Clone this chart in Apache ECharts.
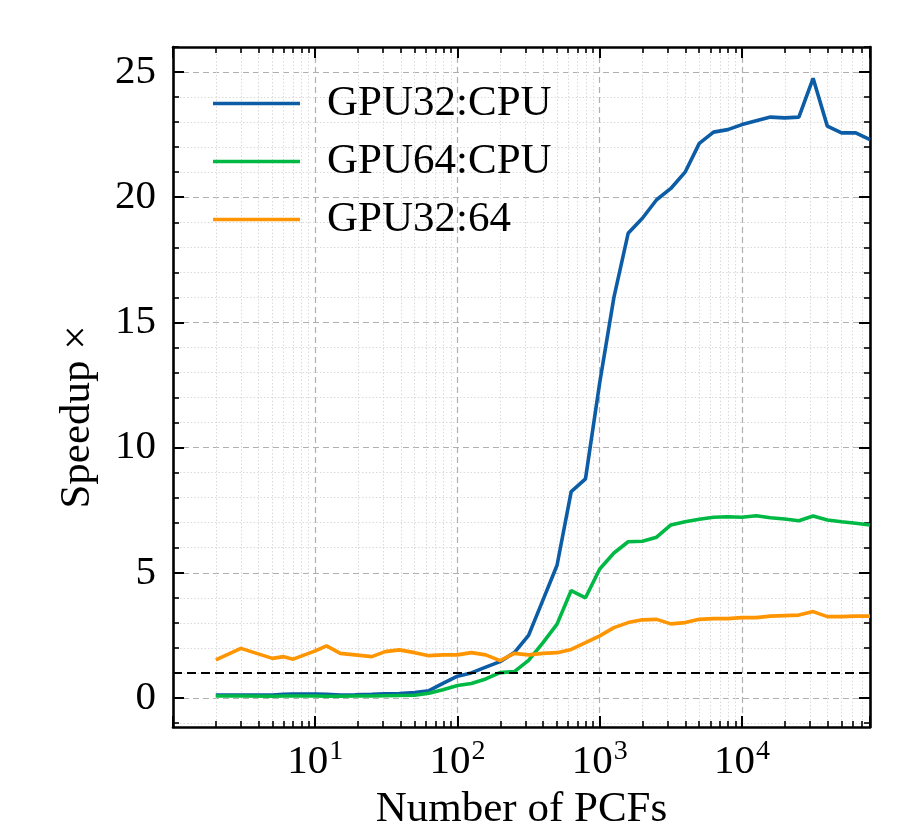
<!DOCTYPE html>
<html lang="en">
<head>
<meta charset="UTF-8">
<title>Speedup vs number of PCFs</title>
<style>
  html, body { margin: 0; padding: 0; background: #fff; }
  #chart { width: 900px; height: 840px; }
</style>
</head>
<body>
<div id="chart"></div>
<script src="https://cdn.jsdelivr.net/npm/echarts@6/dist/echarts.min.js"></script>
<script>
// number of PCFs (x)
var pcfs = [2, 3, 5, 6, 7, 10, 12, 15, 19, 25, 31, 39, 50, 63, 79,
            100, 125, 158, 199, 251, 316, 398, 501, 630, 794,
            1000, 1258, 1584, 1995, 2511, 3162, 3981, 5011, 6309, 7943,
            10000, 12589, 15848, 19952, 25118, 31622, 39810, 50118, 63095, 79432];

var gpu32cpu = [0.12, 0.12, 0.12, 0.15, 0.16, 0.16, 0.15, 0.12, 0.13, 0.15,
                0.17, 0.18, 0.22, 0.29, 0.58, 0.87, 1.0, 1.23, 1.45, 1.81,
                2.5, 3.9, 5.3, 8.24, 8.75, 12.6, 16.0, 18.56, 19.16, 19.9,
                20.35, 21.0, 22.15, 22.6, 22.7, 22.9, 23.05, 23.2, 23.17, 23.2,
                24.75, 22.84, 22.57, 22.57, 22.3];

var gpu64cpu = [0.08, 0.08, 0.07, 0.08, 0.08, 0.08, 0.07, 0.07, 0.08, 0.08,
                0.09, 0.1, 0.11, 0.19, 0.33, 0.5, 0.58, 0.76, 1.01, 1.05,
                1.5, 2.2, 2.95, 4.29, 4.0, 5.15, 5.79, 6.24, 6.26, 6.42,
                6.91, 7.04, 7.14, 7.22, 7.24, 7.22, 7.28, 7.2, 7.15, 7.08,
                7.27, 7.11, 7.04, 6.98, 6.91];

var gpu32gpu64 = [1.52, 1.98, 1.58, 1.65, 1.55, 1.88, 2.08, 1.78, 1.72, 1.65,
                  1.85, 1.92, 1.81, 1.69, 1.72, 1.72, 1.81, 1.72, 1.49, 1.78,
                  1.72, 1.78, 1.81, 1.94, 2.21, 2.48, 2.81, 3.01, 3.12, 3.14,
                  2.96, 3.01, 3.14, 3.17, 3.17, 3.21, 3.21, 3.27, 3.29, 3.31,
                  3.45, 3.25, 3.25, 3.27, 3.27];

var seriesNames = ['GPU32:CPU', 'GPU64:CPU', 'GPU32:64'];
var seriesColors = ['#0C5DA5', '#00B945', '#FF9500'];

var yMajor = [0, 5, 10, 15, 20, 25];
var yMinor = [-1, 1, 2, 3, 4, 6, 7, 8, 9, 11, 12, 13, 14, 16, 17, 18, 19, 21, 22, 23, 24, 26];
var xMin = 1, xMax = 79432;
var yMin = -1.16, yMax = 26;

// minor ticks of the log axis, placed on a linear axis that runs in decades
var xMinorLog = [];
for (var d = 0; d < 5; d++) {
  for (var k = 2; k < 10; k++) {
    var v = Math.log10(k * Math.pow(10, d));
    if (v <= Math.log10(xMax)) xMinorLog.push(v);
  }
}

var font = 'Liberation Serif';
var gridMajor = { show: true, lineStyle: { color: '#b0b0b0', width: 1.2, type: [6, 4] } };
var gridMinor = { show: true, lineStyle: { color: '#d6d6d6', width: 0.9, type: [1.5, 2] } };
var spine = { show: true, onZero: false, lineStyle: { color: '#000', width: 2.6 } };
var noSpine = { show: false, onZero: false };

function pairs(ys) {
  return pcfs.map(function (x, i) { return [x, ys[i]]; });
}

var myChart = echarts.init(document.getElementById('chart'));

var option = {
  animation: false,
  backgroundColor: '#fff',
  grid: { left: 173, right: 30, top: 47, bottom: 113, containLabel: false },
  legend: {
    orient: 'vertical',
    left: 208,
    top: 77,
    icon: 'rect',
    itemWidth: 87,
    itemHeight: 3.6,
    itemGap: 15,
    data: seriesNames,
    textStyle: { fontFamily: font, fontSize: 43, color: '#000', padding: [0, 0, 0, 22] }
  },
  xAxis: [
    {
      type: 'log', logBase: 10, min: xMin, max: xMax, position: 'bottom',
      name: 'Number of PCFs', nameLocation: 'middle', nameGap: 57,
      nameTextStyle: { fontFamily: font, fontSize: 43, color: '#000' },
      axisLine: spine,
      axisTick: { show: true, inside: true, length: 11, lineStyle: { color: '#000', width: 2 } },
      axisLabel: {
        margin: 11,
        formatter: function (v) {
          var e = Math.round(Math.log10(v));
          if (e < 1 || Math.abs(Math.log10(v) - e) > 1e-6) return '';
          return '{b|10}{s|' + e + '}';
        },
        rich: {
          b: { fontFamily: font, fontSize: 41, color: '#000', verticalAlign: 'bottom' },
          s: { fontFamily: font, fontSize: 28, color: '#000', verticalAlign: 'bottom', padding: [0, 0, 17, 1] }
        }
      },
      splitLine: gridMajor
    },
    {
      type: 'log', logBase: 10, min: xMin, max: xMax, position: 'top',
      axisLine: spine,
      axisTick: { show: true, inside: true, length: 11, lineStyle: { color: '#000', width: 2 } },
      axisLabel: { show: false },
      splitLine: { show: false }
    },
    {
      type: 'value', min: 0, max: Math.log10(xMax), position: 'bottom',
      axisLine: noSpine,
      axisTick: { show: true, inside: true, length: 6, customValues: xMinorLog, lineStyle: { color: '#000', width: 1.6 } },
      axisLabel: { show: false },
      splitLine: gridMinor
    },
    {
      type: 'value', min: 0, max: Math.log10(xMax), position: 'top',
      axisLine: noSpine,
      axisTick: { show: true, inside: true, length: 6, customValues: xMinorLog, lineStyle: { color: '#000', width: 1.6 } },
      axisLabel: { show: false },
      splitLine: { show: false }
    }
  ],
  yAxis: [
    {
      type: 'value', min: yMin, max: yMax, position: 'left',
      name: 'Speedup ×', nameLocation: 'middle', nameGap: 74,
      nameTextStyle: { fontFamily: font, fontSize: 43, color: '#000', padding: [0, 60, 0, 0] },
      axisLine: spine,
      axisTick: { show: true, inside: true, length: 11, customValues: yMajor, lineStyle: { color: '#000', width: 2 } },
      axisLabel: { customValues: yMajor, margin: 17, fontFamily: font, fontSize: 41, color: '#000' },
      splitLine: gridMajor
    },
    {
      type: 'value', min: yMin, max: yMax, position: 'right',
      axisLine: spine,
      axisTick: { show: true, inside: true, length: 11, customValues: yMajor, lineStyle: { color: '#000', width: 2 } },
      axisLabel: { show: false },
      splitLine: { show: false }
    },
    {
      type: 'value', min: yMin, max: yMax, position: 'left',
      axisLine: noSpine,
      axisTick: { show: true, inside: true, length: 6, customValues: yMinor, lineStyle: { color: '#000', width: 1.6 } },
      axisLabel: { show: false },
      splitLine: gridMinor
    },
    {
      type: 'value', min: yMin, max: yMax, position: 'right',
      axisLine: noSpine,
      axisTick: { show: true, inside: true, length: 6, customValues: yMinor, lineStyle: { color: '#000', width: 1.6 } },
      axisLabel: { show: false },
      splitLine: { show: false }
    }
  ],
  series: [
    {
      name: seriesNames[0], type: 'line', data: pairs(gpu32cpu),
      showSymbol: false, symbol: 'none',
      color: seriesColors[0], lineStyle: { width: 3.6, color: seriesColors[0] },
      z: 4,
      markLine: {
        silent: true, symbol: ['none', 'none'],
        label: { show: false },
        lineStyle: { color: '#000', width: 2.2, type: [9, 5] },
        data: [{ yAxis: 1 }]
      }
    },
    {
      name: seriesNames[1], type: 'line', data: pairs(gpu64cpu),
      showSymbol: false, symbol: 'none',
      color: seriesColors[1], lineStyle: { width: 3.6, color: seriesColors[1] },
      z: 4
    },
    {
      name: seriesNames[2], type: 'line', data: pairs(gpu32gpu64),
      showSymbol: false, symbol: 'none',
      color: seriesColors[2], lineStyle: { width: 3.6, color: seriesColors[2] },
      z: 4
    }
  ]
};

myChart.setOption(option);
</script>
</body>
</html>
